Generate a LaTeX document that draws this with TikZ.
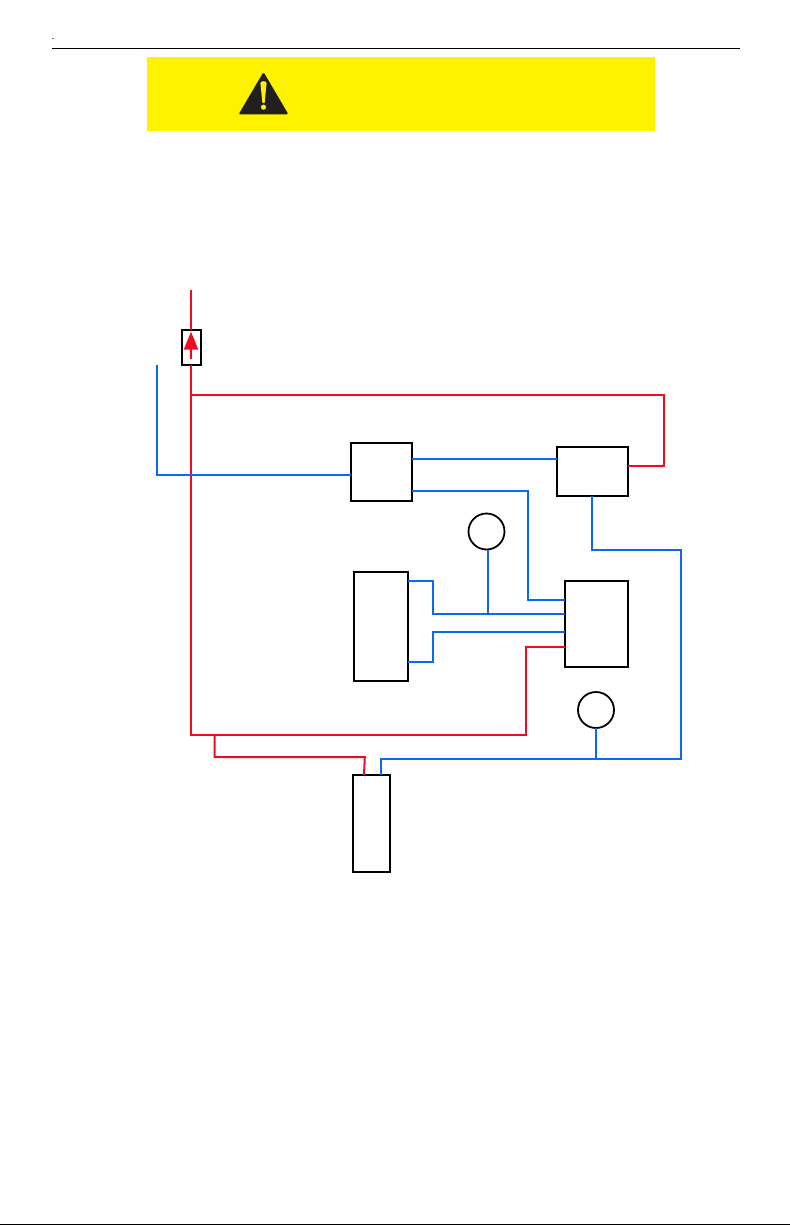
\documentclass[tikz,border=0pt]{standalone}
\definecolor{wirered}{HTML}{F20A22}
\definecolor{wireblue}{HTML}{0A68F2}
\definecolor{warnyellow}{HTML}{FFF200}
\definecolor{warndark}{HTML}{231F20}
\tikzset{
  boxnode/.style={draw=black,line width=2pt,fill=white,rectangle,inner sep=0pt,outer sep=0pt},
  gauge/.style={draw=black,line width=1.8pt,fill=white,circle,inner sep=0pt,outer sep=0pt,minimum size=36pt},
  redwire/.style={draw=wirered,line width=2pt,line join=miter},
  bluewire/.style={draw=wireblue,line width=2pt,line join=miter},
}
\begin{document}
\begin{tikzpicture}[x=1pt,y=-1pt]
\useasboundingbox (0,0) rectangle (793,1225);
\fill[white] (0,0) rectangle (793,1225);
% header
\draw[black,line width=1.2pt] (52,48.5) -- (740,48.5);
\fill[black] (53,38.5) circle (0.6pt);
% bottom edge
\fill[black] (0,1224) rectangle (790,1225);
% warning banner
\fill[warnyellow] (147,57) rectangle (655,131);
\fill[warndark,rounded corners=1.5pt] (263.5,72) -- (288.5,114.5) -- (238.5,114.5) -- cycle;
\fill[warnyellow] (260.4,83) .. controls (260.4,80.6) and (266.6,80.6) .. (266.6,83) -- (264.6,103) -- (262.4,103) -- cycle;
\fill[warnyellow] (263.5,107.2) circle (2.6pt);
% boxes
\node[boxnode,minimum width=60.6pt,minimum height=57.6pt,anchor=north west] (A) at (351,443) {};
\node[boxnode,minimum width=70.6pt,minimum height=49pt,anchor=north west] (B) at (557,447) {};
\node[boxnode,minimum width=53.6pt,minimum height=109pt,anchor=north west] (C) at (354,572) {};
\node[boxnode,minimum width=63pt,minimum height=86pt,anchor=north west] (D) at (565,581) {};
\node[boxnode,minimum width=36.6pt,minimum height=97pt,anchor=north west] (E) at (353,775) {};
\node[gauge] (G1) at (486.5,531.5) {};
\node[gauge] (G2) at (596,710) {};
\node[boxnode,fill=none,minimum width=18.5pt,minimum height=35pt,anchor=north west] (F) at (182,330) {};
\coordinate (feedtop) at (191,290);
\coordinate (feedbot) at (191,735);
\coordinate (returntop) at (157,365);
\coordinate (branch1) at (191,395);
\coordinate (branch2) at (214.5,735);
\coordinate (junction1) at (488,614);
\coordinate (junction2) at (596,759);
% red
\draw[redwire] (feedtop) -- (F.north -| feedtop);
\draw[redwire] (F.south -| feedtop) -- (feedbot) -- (526,735) -- (526,647) -- (D.west |- 0,647);
\draw[redwire] (branch1) -- (664,395) -- (664,466) -- (B.east |- 0,466);
\draw[redwire] (branch2) -- (214.5,757) -- (364.8,757) -- (364,775);
% fuse arrow
\draw[wirered,line width=2pt] (191,358.7) -- (191,345);
\fill[wirered] (191,331.7) -- (198.2,349.5) -- (183.8,349.5) -- cycle;
% blue
\draw[bluewire] (returntop) -- (157,475) -- (A.west |- 0,475);
\draw[bluewire] (A.east |- 0,459) -- (B.west |- 0,459);
\draw[bluewire] (A.east |- 0,491) -- (528,491) -- (528,600) -- (D.west |- 0,600);
\draw[bluewire] (C.east |- 0,581) -- (433,581) -- (433,614) -- (D.west |- 0,614);
\draw[bluewire] (C.east |- 0,662) -- (433,662) -- (433,632) -- (D.west |- 0,632);
\draw[bluewire] (G1.south -| junction1) -- (junction1);
\draw[bluewire] (B.south -| 592,0) -- (592,550) -- (681,550) -- (681,759) -- (381,759) -- (E.north -| 381,0);
\draw[bluewire] (G2.south) -- (junction2);
\end{tikzpicture}
\end{document}
